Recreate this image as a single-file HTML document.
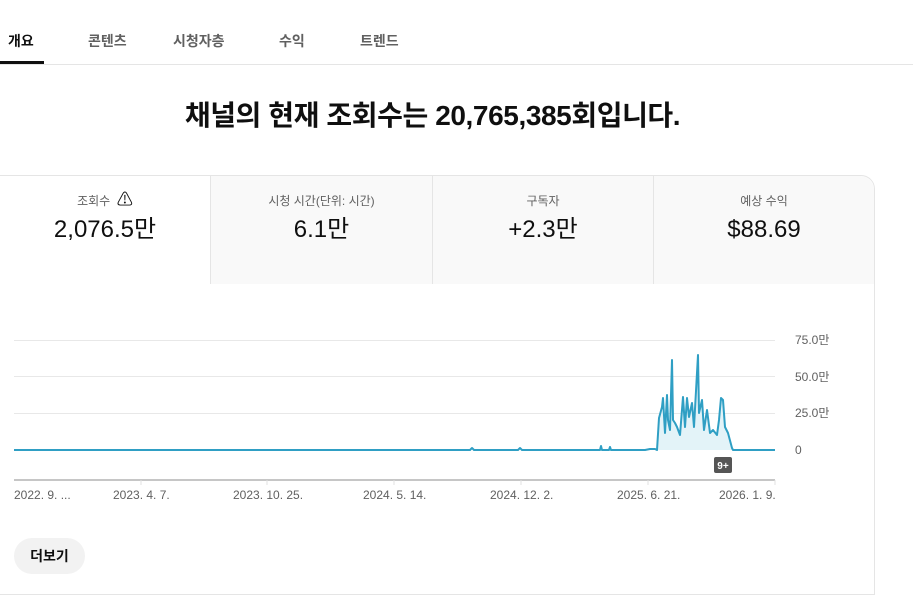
<!DOCTYPE html>
<html><head><meta charset="utf-8"><style>
*{margin:0;padding:0;box-sizing:border-box}
body{width:913px;height:589px;background:#fff;font-family:"Liberation Sans","Noto Sans CJK KR",sans-serif;color:#0f0f0f;position:relative;overflow:hidden}
.a{position:absolute;white-space:nowrap}
.tab{top:31px;font-size:14px;color:#606060;font-weight:bold}
.card{position:absolute;left:-2px;top:175px;width:877px;height:420px;border:1px solid #e5e5e5;border-top-right-radius:14px;background:#fff}
.cell{position:absolute;top:176px;height:108px;background:#f9f9f9;border-left:1px solid #e5e5e5;text-align:center}
.lab{font-size:12px;color:#606060;margin-top:17px;height:16px;line-height:16px}
.val{font-size:24px;color:#0f0f0f;margin-top:6px;line-height:30px}
</style></head><body>
<div class="a tab" style="left:8px;color:#0f0f0f">개요</div>
<div class="a" style="left:0;top:61px;width:44px;height:3px;background:#0f0f0f"></div>
<div class="a tab" style="left:88px">콘텐츠</div>
<div class="a tab" style="left:173px">시청자층</div>
<div class="a tab" style="left:279px">수익</div>
<div class="a tab" style="left:360px">트렌드</div>
<div class="a" style="left:0;top:64px;width:913px;height:1px;background:#e5e5e5"></div>
<div class="a" style="left:0;width:865px;top:94px;text-align:center;font-size:28px;font-weight:bold;letter-spacing:-0.4px">채널의 현재 조회수는 20,765,385회입니다.</div>
<div class="card"></div>
<div class="cell" style="left:0;width:210px;background:#fff;border-left:none"><div class="lab">조회수 &nbsp;<span style="font-size:16px;color:#0f0f0f">⚠</span></div><div class="val">2,076.5만</div></div>
<div class="cell" style="left:210px;width:222px"><div class="lab">시청 시간(단위: 시간)</div><div class="val">6.1만</div></div>
<div class="cell" style="left:432px;width:221px"><div class="lab">구독자</div><div class="val">+2.3만</div></div>
<div class="cell" style="left:653px;width:221px;border-top-right-radius:14px"><div class="lab">예상 수익</div><div class="val">$88.69</div></div>
<svg class="a" style="left:0;top:0" width="913" height="589">
<g stroke="#e8e8e8" stroke-width="1">
<line x1="14" y1="340.5" x2="775" y2="340.5"/><line x1="14" y1="376.5" x2="775" y2="376.5"/><line x1="14" y1="413.5" x2="775" y2="413.5"/>
</g>
<line x1="14" y1="480" x2="775" y2="480" stroke="#c6c6c6" stroke-width="2"/>
<g stroke="#e0e0e0"><line x1="141" y1="480" x2="141" y2="485"/><line x1="267" y1="480" x2="267" y2="485"/><line x1="394" y1="480" x2="394" y2="485"/><line x1="521" y1="480" x2="521" y2="485"/><line x1="648" y1="480" x2="648" y2="485"/><line x1="775" y1="480" x2="775" y2="485"/></g>
<g font-size="12" fill="#606060" font-family="Liberation Sans, sans-serif">
<text x="795" y="344">75.0만</text><text x="795" y="381">50.0만</text><text x="795" y="417">25.0만</text><text x="795" y="454">0</text>
<text x="14" y="499">2022. 9. ...</text><text x="113" y="499">2023. 4. 7.</text><text x="233" y="499">2023. 10. 25.</text><text x="363" y="499">2024. 5. 14.</text><text x="490" y="499">2024. 12. 2.</text><text x="617" y="499">2025. 6. 21.</text><text x="719" y="499">2026. 1. 9.</text>
</g>
<path d="M657,450 L659,418 662,407 663,398 665,433 667,395 668,420 670,430 672,360 673,420 675,423 677,427 680,435 683,397 685,427 687,398 689,417 692,403 694,427 698,355 699,413 702,400 704,430 707,410 710,433 713,430 717,435 719,420 721,398 723,400 725,427 728,433 732,448 733,450 Z" fill="#e3f3f8"/>
<polyline fill="none" stroke="#2f9fc4" stroke-width="2" stroke-linejoin="round" points="14,450 470,450 472,448 474,450 518,450 520,448 522,450 600,450 601,446 602,450 609,450 610,447 611,450 645,450 650,449 655,449 657,450 659,418 662,407 663,398 665,433 667,395 668,420 670,430 672,360 673,420 675,423 677,427 680,435 683,397 685,427 687,398 689,417 692,403 694,427 698,355 699,413 702,400 704,430 707,410 710,433 713,430 717,435 719,420 721,398 723,400 725,427 728,433 732,448 733,450 775,450"/>
<rect x="714" y="457" width="18" height="16" rx="2" fill="#555"/>
<text x="723" y="469" font-size="10" font-weight="bold" fill="#fff" text-anchor="middle" font-family="Liberation Sans, sans-serif">9+</text>
</svg>
<div class="a" style="left:14px;top:538px;width:71px;height:36px;border-radius:18px;background:#f2f2f2;font-size:14px;font-weight:bold;text-align:center;line-height:36px">더보기</div>
</body></html>
